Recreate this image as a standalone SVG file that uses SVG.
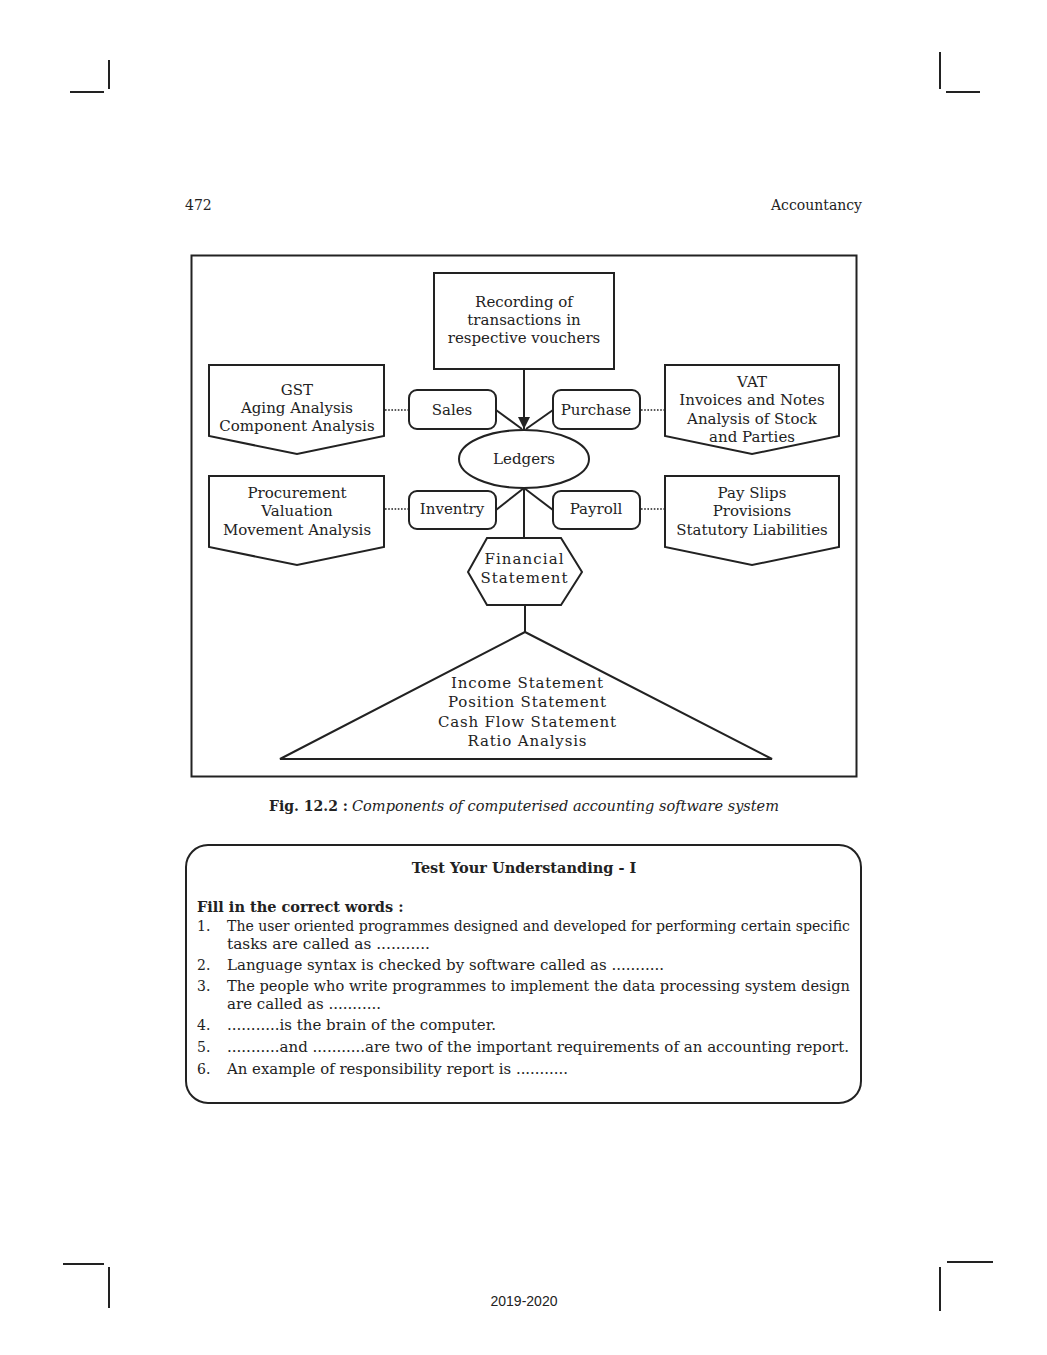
<svg xmlns="http://www.w3.org/2000/svg" width="1047" height="1355" viewBox="0 0 1047 1355">
<defs>
<style>
.s{fill:#fff;stroke:#222;stroke-width:2}
.ln{fill:none;stroke:#222;stroke-width:2}
.dot{fill:none;stroke:#222;stroke-width:1.6;stroke-dasharray:1.6 1.6}
.crop{stroke:#222;stroke-width:2}
.t{font-family:"DejaVu Serif","Liberation Serif",serif;font-size:15px;fill:#222;text-anchor:middle}
.w{font-family:"DejaVu Serif","Liberation Serif",serif;font-size:15px;fill:#222;text-anchor:middle}
.b{font-family:"DejaVu Serif","Liberation Serif",serif;font-size:14px;fill:#222}
.bb{font-family:"DejaVu Serif","Liberation Serif",serif;font-weight:bold;font-size:14.5px;fill:#222}
</style>
<marker id="ah" viewBox="0 0 10 10" refX="10" refY="5" markerWidth="12" markerHeight="12" markerUnits="userSpaceOnUse" orient="auto">
<path d="M0,0 L10,5 L0,10 z" fill="#222"/>
</marker>
</defs>
<rect width="1047" height="1355" fill="#fff"/>

<g id="crop-marks">
<line class="crop" x1="70" y1="92" x2="104" y2="92"/>
<line class="crop" x1="109" y1="60" x2="109" y2="89"/>
<line class="crop" x1="940" y1="52" x2="940" y2="89"/>
<line class="crop" x1="946" y1="92" x2="980" y2="92"/>
<line class="crop" x1="63" y1="1264" x2="104" y2="1264"/>
<line class="crop" x1="109" y1="1267" x2="109" y2="1308"/>
<line class="crop" x1="947" y1="1262" x2="993" y2="1262"/>
<line class="crop" x1="940" y1="1267" x2="940" y2="1311"/>
</g>

<g id="header">
<text class="b" x="185" y="210" font-size="15">472</text>
<text class="b" x="862" y="210" font-size="15" text-anchor="end">Accountancy</text>
</g>

<rect id="frame" x="191.5" y="255.5" width="665" height="521" fill="none" stroke="#222" stroke-width="2"/>

<g id="connectors">
<line class="ln" x1="524" y1="369" x2="524" y2="429" marker-end="url(#ah)"/>
<line class="ln" x1="496" y1="410" x2="522" y2="429"/>
<line class="ln" x1="553" y1="410" x2="526" y2="429"/>
<line class="ln" x1="524" y1="488" x2="496" y2="510"/>
<line class="ln" x1="524" y1="488" x2="553" y2="510"/>
<line class="ln" x1="524" y1="488" x2="524" y2="538"/>
<line class="ln" x1="525" y1="605" x2="525" y2="632"/>
<line class="dot" x1="385" y1="410" x2="408" y2="410"/>
<line class="dot" x1="641" y1="410" x2="664" y2="410"/>
<line class="dot" x1="385" y1="509" x2="408" y2="509"/>
<line class="dot" x1="641" y1="509" x2="664" y2="509"/>
</g>

<g id="recording">
<rect class="s" x="434" y="273" width="180" height="96"/>
<text class="t" x="524" y="307">Recording of</text>
<text class="t" x="524" y="325">transactions in</text>
<text class="t" x="524" y="343">respective vouchers</text>
</g>

<g id="gst">
<polygon class="s" points="209,365 384,365 384,436 297,454 209,436"/>
<text class="t" x="297" y="395">GST</text>
<text class="t" x="297" y="413">Aging Analysis</text>
<text class="t" x="297" y="431">Component Analysis</text>
</g>

<g id="vat">
<polygon class="s" points="665,365 839,365 839,436 752,454 665,436"/>
<text class="t" x="752" y="387">VAT</text>
<text class="t" x="752" y="405">Invoices and Notes</text>
<text class="t" x="752" y="424">Analysis of Stock</text>
<text class="t" x="752" y="442">and Parties</text>
</g>

<g id="procurement">
<polygon class="s" points="209,476 384,476 384,547 297,565 209,547"/>
<text class="t" x="297" y="498">Procurement</text>
<text class="t" x="297" y="516">Valuation</text>
<text class="t" x="297" y="535">Movement Analysis</text>
</g>

<g id="payslips">
<polygon class="s" points="665,476 839,476 839,547 752,565 665,547"/>
<text class="t" x="752" y="498">Pay Slips</text>
<text class="t" x="752" y="516">Provisions</text>
<text class="t" x="752" y="535">Statutory Liabilities</text>
</g>

<g id="sales">
<rect class="s" x="409" y="390" width="87" height="39" rx="8"/>
<text class="t" x="452" y="415">Sales</text>
</g>

<g id="purchase">
<rect class="s" x="553" y="390" width="87" height="39" rx="8"/>
<text class="t" x="596" y="415">Purchase</text>
</g>

<g id="ledgers">
<ellipse class="s" cx="524" cy="459" rx="65" ry="29"/>
<text class="t" x="524" y="464">Ledgers</text>
</g>

<g id="inventry">
<rect class="s" x="409" y="491" width="87" height="38" rx="8"/>
<text class="t" x="452" y="514">Inventry</text>
</g>

<g id="payroll">
<rect class="s" x="553" y="491" width="87" height="38" rx="8"/>
<text class="t" x="596" y="514">Payroll</text>
</g>

<g id="financial-statement">
<polygon class="s" points="487,538 561,538 582,572 561,605 487,605 468,572"/>
<text class="w" x="524" y="564" textLength="79" lengthAdjust="spacing">Financial</text>
<text class="w" x="524" y="583" textLength="87" lengthAdjust="spacing">Statement</text>
</g>

<g id="statements">
<polygon class="s" points="525,632 772,759 280,759"/>
<text class="w" x="527" y="688" textLength="152" lengthAdjust="spacing">Income Statement</text>
<text class="w" x="527" y="707" textLength="158" lengthAdjust="spacing">Position Statement</text>
<text class="w" x="527" y="727" textLength="178" lengthAdjust="spacing">Cash Flow Statement</text>
<text class="w" x="527" y="746" textLength="119" lengthAdjust="spacing">Ratio Analysis</text>
</g>

<g id="caption">
<text class="bb" x="269" y="811" textLength="79" lengthAdjust="spacingAndGlyphs">Fig. 12.2 :</text>
<text x="352" y="811" font-family="DejaVu Serif, Liberation Serif, serif" font-style="italic" font-size="14.5" fill="#222" textLength="427" lengthAdjust="spacingAndGlyphs">Components of computerised accounting software system</text>
</g>

<g id="test-box">
<rect x="186" y="845" width="675" height="258" rx="22" fill="#fff" stroke="#222" stroke-width="2"/>
<text class="bb" x="524" y="873" text-anchor="middle">Test Your Understanding - I</text>
<text class="bb" x="197" y="912">Fill in the correct words :</text>
<text class="b" x="197" y="931">1.</text>
<text class="b" x="227" y="931" textLength="623" lengthAdjust="spacingAndGlyphs">The user oriented programmes designed and developed for performing certain specific</text>
<text class="b" x="227" y="949" textLength="203" lengthAdjust="spacingAndGlyphs">tasks are called as ...........</text>
<text class="b" x="197" y="970">2.</text>
<text class="b" x="227" y="970" textLength="437" lengthAdjust="spacingAndGlyphs">Language syntax is checked by software called as ...........</text>
<text class="b" x="197" y="991">3.</text>
<text class="b" x="227" y="991" textLength="623" lengthAdjust="spacingAndGlyphs">The people who write programmes to implement the data processing system design</text>
<text class="b" x="227" y="1009" textLength="154" lengthAdjust="spacingAndGlyphs">are called as ...........</text>
<text class="b" x="197" y="1030">4.</text>
<text class="b" x="227" y="1030" textLength="269" lengthAdjust="spacingAndGlyphs">...........is the brain of the computer.</text>
<text class="b" x="197" y="1052">5.</text>
<text class="b" x="227" y="1052" textLength="622" lengthAdjust="spacingAndGlyphs">...........and ...........are two of the important requirements of an accounting report.</text>
<text class="b" x="197" y="1074">6.</text>
<text class="b" x="227" y="1074" textLength="341" lengthAdjust="spacingAndGlyphs">An example of responsibility report is ...........</text>
</g>

<text id="footer" x="524" y="1306" font-family="Liberation Sans, Arial, sans-serif" font-size="14" fill="#222" text-anchor="middle">2019-2020</text>
</svg>
